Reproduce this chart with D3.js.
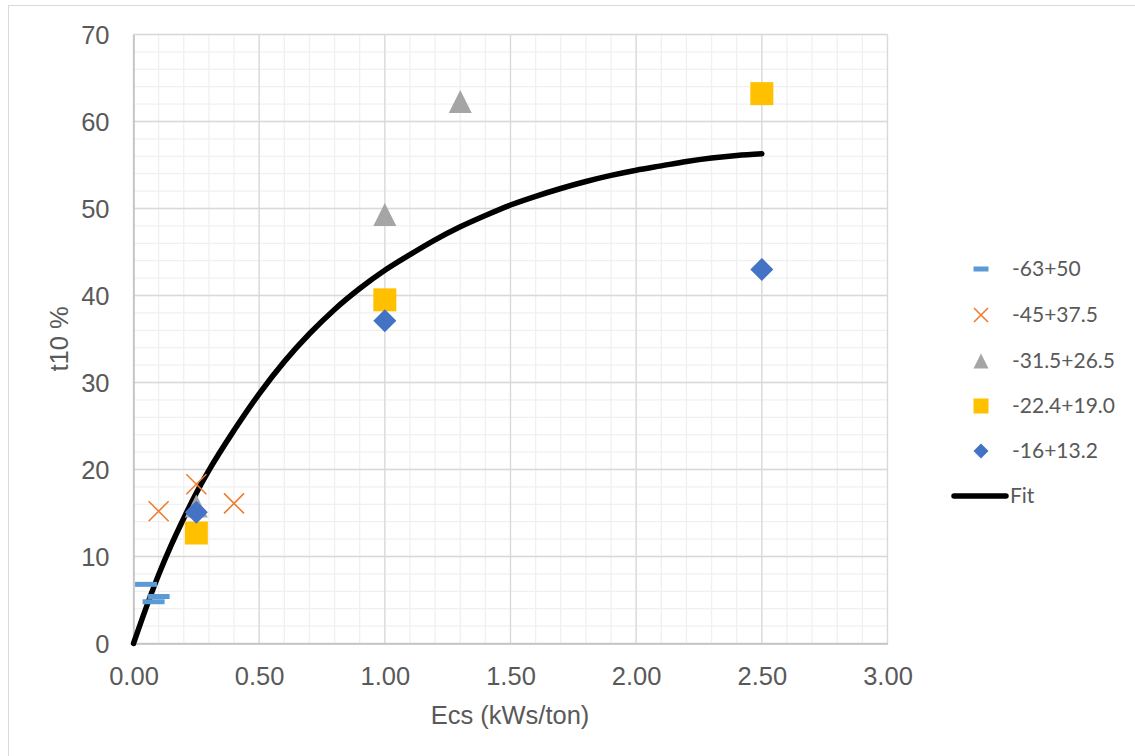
<!DOCTYPE html>
<html>
<head>
<meta charset="utf-8">
<script src="https://cdn.jsdelivr.net/npm/d3@7"></script>
<style>
  html, body { margin: 0; padding: 0; background: #fff; }
  svg { display: block; }
</style>
</head>
<body>
<svg id="chart" width="1135" height="756"></svg>
<script>
// Measured t10 values per size fraction
const s63x = [0.05, 0.10, 0.08];
const s63y = [6.8, 5.4, 4.8];
const s45x = [0.10, 0.25, 0.40];
const s45y = [15.2, 18.3, 16.1];
const s31x = [0.25, 1.00, 1.30];
const s31y = [15.8, 49.3, 62.3];
const s22x = [0.25, 1.00, 2.50];
const s22y = [12.7, 39.5, 63.2];
const s16x = [0.25, 1.00, 2.50];
const s16y = [15.1, 37.1, 43.0];

// Fitted curve, sampled along Ecs
const fitX = [0, 0.05, 0.1, 0.15, 0.2, 0.25, 0.3, 0.4, 0.5, 0.6, 0.7, 0.8, 0.9, 1.0,
              1.1, 1.2, 1.3, 1.4, 1.5, 1.6, 1.7, 1.8, 1.9, 2.0, 2.1, 2.2, 2.3, 2.4, 2.5];
const fitY = [0, 4.1, 7.9, 11.3, 14.4, 17.3, 19.9, 24.5, 28.7, 32.4, 35.6, 38.4, 40.8, 42.9,
              44.7, 46.4, 47.9, 49.2, 50.4, 51.4, 52.3, 53.1, 53.8, 54.4, 54.9, 55.4, 55.8, 56.1, 56.3];

const xTicks = [0, 0.5, 1.0, 1.5, 2.0, 2.5, 3.0];
const yTicks = [0, 10, 20, 30, 40, 50, 60, 70];

const seriesNames = ["-63+50", "-45+37.5", "-31.5+26.5", "-22.4+19.0", "-16+13.2", "Fit"];

const svg = d3.select("#chart");

// Chart area frame
svg.append("rect").attr("x", 8.5).attr("y", 5.5).attr("width", 1140).attr("height", 760)
  .attr("fill", "#fff").attr("stroke", "#d9d9d9").attr("stroke-width", 1);

const plot = { left: 133.5, right: 887.5, top: 34.5, bottom: 643.5 };
const x = d3.scaleLinear().domain([0, 3]).range([plot.left, plot.right]);
const y = d3.scaleLinear().domain([0, 70]).range([plot.bottom, plot.top]);

const g = svg.append("g");

// Minor grid
const xMinor = d3.range(0, 3.0001, 0.1);
const yMinor = d3.range(0, 70.0001, 2);
g.append("g")
  .selectAll("line").data(xMinor).join("line")
  .attr("x1", d => x(d)).attr("x2", d => x(d))
  .attr("y1", plot.top).attr("y2", plot.bottom)
  .attr("stroke", "#f0f0f0").attr("stroke-width", 1.3);
g.append("g")
  .selectAll("line").data(yMinor).join("line")
  .attr("y1", d => y(d)).attr("y2", d => y(d))
  .attr("x1", plot.left).attr("x2", plot.right)
  .attr("stroke", "#f0f0f0").attr("stroke-width", 1.3);

// Major grid
g.append("g").selectAll("line").data(xTicks).join("line")
  .attr("x1", d => x(d)).attr("x2", d => x(d))
  .attr("y1", plot.top).attr("y2", plot.bottom)
  .attr("stroke", "#d9d9d9").attr("stroke-width", 1.3);
g.append("g").selectAll("line").data(yTicks).join("line")
  .attr("y1", d => y(d)).attr("y2", d => y(d))
  .attr("x1", plot.left).attr("x2", plot.right)
  .attr("stroke", "#d9d9d9").attr("stroke-width", 1.3);

const labelFont = "'Liberation Sans', Arial, sans-serif";

// Axes
const xAxis = d3.axisBottom(x).tickValues(xTicks).tickFormat(d3.format(".2f")).tickSize(0).tickPadding(23);
const yAxis = d3.axisLeft(y).tickValues(yTicks).tickFormat(d3.format("d")).tickSize(0).tickPadding(24);
const gx = svg.append("g").attr("transform", `translate(0,${plot.bottom})`).call(xAxis);
const gy = svg.append("g").attr("transform", `translate(${plot.left},0)`).call(yAxis);
[gx, gy].forEach(a => {
  a.select(".domain").attr("stroke", "#bfbfbf").attr("stroke-width", 1.5);
  a.selectAll("text").attr("font-family", labelFont)
    .attr("font-size", 25.5).attr("fill", "#595959");
});
gx.selectAll("text").attr("dy", "0.71em");
gy.selectAll("text").attr("dy", "0.36em");

// Axis titles
svg.append("text").attr("x", 510).attr("y", 724).attr("text-anchor", "middle")
  .attr("font-family", labelFont).attr("font-size", 25.5)
  .attr("fill", "#595959").text("Ecs (kWs/ton)");
svg.append("text").attr("transform", "translate(68,339) rotate(-90)").attr("text-anchor", "middle")
  .attr("font-family", labelFont).attr("font-size", 25.5)
  .attr("fill", "#595959").text("t10 %");

// Marker drawing helpers
function drawDash(sel, s) {
  sel.append("rect").attr("x", -s / 2).attr("y", -2.5).attr("width", s).attr("height", 5).attr("fill", "#5b9bd5");
}
function drawCross(sel, s) {
  const h = s / 2;
  sel.append("path").attr("d", `M${-h},${-h}L${h},${h}M${-h},${h}L${h},${-h}`)
    .attr("stroke", "#ed7d31").attr("stroke-width", 1.6).attr("fill", "none");
}
function drawTri(sel, s) {
  const h = s / 2;
  sel.append("path").attr("d", `M0,${-h}L${h},${h}L${-h},${h}Z`).attr("fill", "#a5a5a5");
}
function drawSquare(sel, s) {
  sel.append("rect").attr("x", -s / 2).attr("y", -s / 2).attr("width", s).attr("height", s).attr("fill", "#ffc000");
}
function drawDiamond(sel, s) {
  const h = s / 2;
  sel.append("path").attr("d", `M0,${-h}L${h},0L0,${h}L${-h},0Z`).attr("fill", "#4472c4");
}

const series = [
  { xs: s63x, ys: s63y, draw: drawDash, size: 22, lsize: 15 },
  { xs: s45x, ys: s45y, draw: drawCross, size: 20, lsize: 14 },
  { xs: s31x, ys: s31y, draw: drawTri, size: 23, lsize: 15 },
  { xs: s22x, ys: s22y, draw: drawSquare, size: 23, lsize: 15 },
  { xs: s16x, ys: s16y, draw: drawDiamond, size: 23, lsize: 15 }
];

// Fit curve (underneath the measured points)
const fitPts = fitX.map((v, i) => [v, fitY[i]]);
svg.append("path").datum(fitPts)
  .attr("d", d3.line().x(d => x(d[0])).y(d => y(d[1])).curve(d3.curveMonotoneX))
  .attr("fill", "none").attr("stroke", "#000").attr("stroke-width", 5.5)
  .attr("stroke-linecap", "round").attr("stroke-linejoin", "round");

const marks = svg.append("g");
series.forEach(s => {
  const pts = s.xs.map((v, i) => [v, s.ys[i]]);
  marks.append("g").selectAll("g").data(pts).join("g")
    .attr("transform", d => `translate(${x(d[0])},${y(d[1])})`)
    .each(function () { s.draw(d3.select(this), s.size); });
});

// Legend
const legY = [269, 315, 361, 406, 451, 496];
const legend = svg.append("g");
series.forEach((s, i) => {
  const item = legend.append("g").attr("transform", `translate(981,${legY[i]})`);
  s.draw(item, s.lsize);
});
legend.append("line").attr("x1", 954).attr("x2", 1006).attr("y1", legY[5]).attr("y2", legY[5])
  .attr("stroke", "#000").attr("stroke-width", 5.5).attr("stroke-linecap", "round");
legend.selectAll("text").data(seriesNames).join("text")
  .attr("x", (d, i) => i === 5 ? 1010 : 1012)
  .attr("y", (d, i) => legY[i]).attr("dy", "0.35em")
  .attr("font-family", "Lato, 'Open Sans', sans-serif").attr("font-size", 21)
  .attr("fill", "#595959").text(d => d);
</script>
</body>
</html>
